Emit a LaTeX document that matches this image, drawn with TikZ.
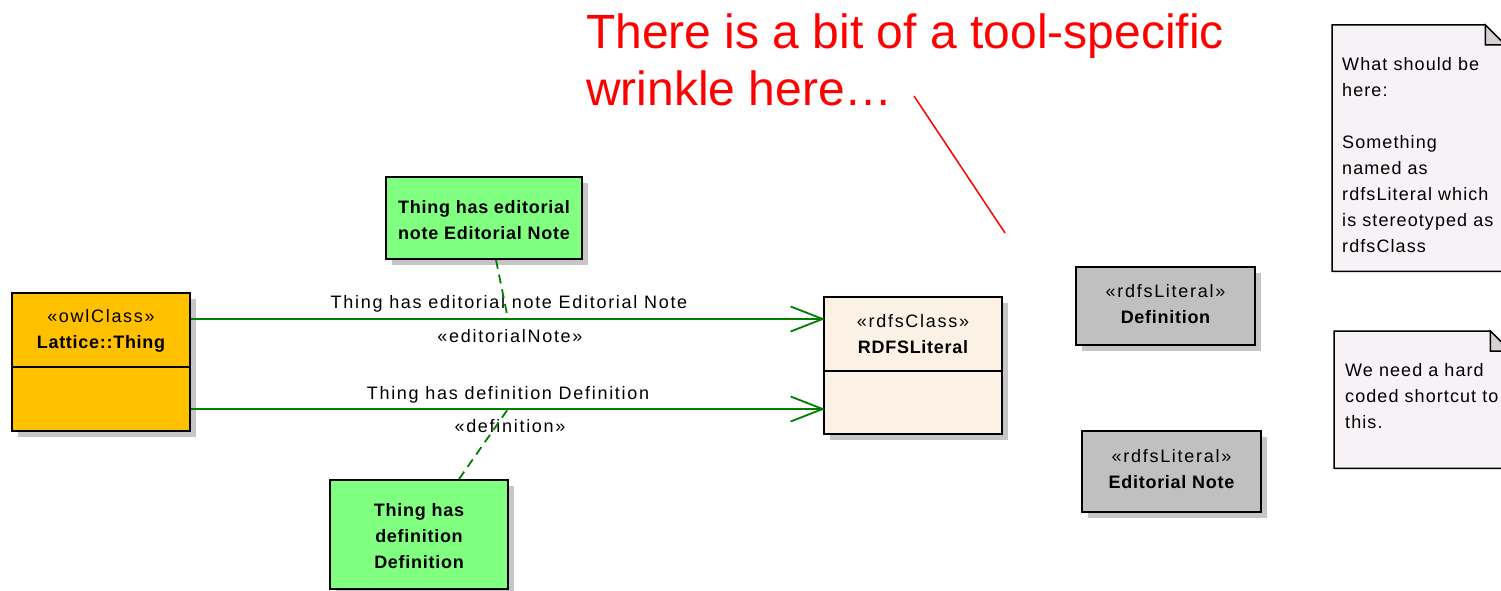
\documentclass[tikz,border=0pt]{standalone}
\usepackage{fontspec}
\setmainfont{Liberation Sans}
\newfontfamily\umlfont[LetterSpace=9.5]{Liberation Sans}
\newfontfamily\umlbfont[LetterSpace=4]{Liberation Sans}
\newfontfamily\notefont[LetterSpace=6]{Liberation Sans}
\newcommand\boldname[1]{{\umlbfont\bfseries #1}}
\usetikzlibrary{arrows.meta,shadows}

\definecolor{thingfill}{HTML}{FFC000}
\definecolor{rdfsfill}{HTML}{FBF1E4}
\definecolor{propfill}{HTML}{80FF80}
\definecolor{litfill}{HTML}{C0C0C0}
\definecolor{shadowc}{HTML}{C6C6C6}
\definecolor{assocgreen}{HTML}{008000}
\definecolor{notefill}{HTML}{F6F2F6}
\definecolor{foldfill}{HTML}{D4D0D4}
\definecolor{calloutred}{HTML}{FF0000}

\begin{document}
\begin{tikzpicture}[x=1pt,y=-1pt,
  umlbox/.style={draw=black, line width=1.8pt, rectangle, inner sep=0pt,
    drop shadow={shadow xshift=6pt, shadow yshift=-6pt, fill=shadowc, opacity=1}},
  boxtext/.style={align=center, inner sep=0pt, font=\umlfont\fontsize{18}{26}\selectfont},
  linklabel/.style={inner sep=0pt, anchor=base, font=\umlfont\fontsize{18}{26}\selectfont},
  assoc/.style={draw=assocgreen, line width=1.8pt,
    -{Straight Barb[length=32pt,width=25pt,line width=1.8pt]}, shorten >=-2pt},
  notelink/.style={draw=assocgreen, line width=1.8pt, dash pattern=on 9pt off 6pt},
  notebody/.style={draw=black, line width=1.5pt, fill=notefill, line join=miter},
  notefold/.style={draw=black, line width=1.5pt, fill=foldfill},
  notetext/.style={align=left, inner sep=0pt, anchor=north west,
    font=\notefont\fontsize{18}{26}\selectfont},
  callout/.style={align=left, inner sep=0pt, anchor=north west, text=calloutred,
    font=\fontsize{48}{57}\selectfont},
  calloutline/.style={draw=calloutred, line width=1.5pt}
]
\useasboundingbox (0,0) rectangle (1501,591);
\clip (0,0) rectangle (1501,591);

% ---- classes ----
\node[umlbox, fill=thingfill, minimum width=178, minimum height=138] (thing) at (101,362) {};
\draw[line width=1.8pt] (thing.west |- 0,367) -- (thing.east |- 0,367);
\node[boxtext] (thinghead) at (101,331) {«owlClass»\\\boldname{Lattice::Thing}};

\node[umlbox, fill=rdfsfill, minimum width=178, minimum height=137] (rdfs) at (913,365.5) {};
\draw[line width=1.8pt] (rdfs.west |- 0,371) -- (rdfs.east |- 0,371);
\node[boxtext] (rdfshead) at (913,334) {«rdfsClass»\\\boldname{RDFSLiteral}};

% ---- association classes ----
\node[umlbox, fill=propfill, minimum width=196, minimum height=82] (edbox) at (484,218) {};
\node[boxtext] (edtext) at (484,220.5) {\boldname{Thing has editorial}\\\boldname{note Editorial Note}};

\node[umlbox, fill=propfill, minimum width=178, minimum height=109] (defbox) at (419,534.5) {};
\node[boxtext] (deftext) at (419,536) {\boldname{Thing has}\\\boldname{definition}\\\boldname{Definition}};

% ---- literal instances ----
\node[umlbox, fill=litfill, minimum width=179, minimum height=78] (litdef) at (1165.5,306) {};
\node[boxtext] (litdeftext) at (1165.5,304.5) {«rdfsLiteral»\\\boldname{Definition}};

\node[umlbox, fill=litfill, minimum width=179, minimum height=81] (lited) at (1171.5,471.5) {};
\node[boxtext] (litedtext) at (1171.5,469) {«rdfsLiteral»\\\boldname{Editorial Note}};

% ---- associations ----
\draw[assoc] (thing.east |- 0,319) -- (rdfs.west |- 0,319);
\draw[assoc] (thing.east |- 0,409) -- (rdfs.west |- 0,409);
\node[linklabel] (lab1) at (509,308) {Thing has editorial note Editorial Note};
\node[linklabel] (st1) at (510,342) {«editorialNote»};
\node[linklabel] (lab2) at (508,399) {Thing has definition Definition};
\node[linklabel] (st2) at (510,432.5) {«definition»};

\coordinate (edmid) at (508,319);
\coordinate (defmid) at (508,409);
\draw[notelink] ([xshift=12pt]edbox.south) -- (edmid);
\draw[notelink] ([xshift=40pt]defbox.north) -- (defmid);

% ---- callout ----
\node[callout] (wrinkle) at (586,14) {There is a bit of a tool-specific\\wrinkle here…};
\coordinate (wrinkletail) at (914,96);
\coordinate (wrinkletip) at (1005,233);
\draw[calloutline] (wrinkletail) -- (wrinkletip);

% ---- notes ----
\node[minimum width=173, minimum height=246, anchor=north west, inner sep=0pt] (note1) at (1332,25) {};
\draw[notebody] (note1.north west) -- ([xshift=-20pt]note1.north east) -- ([yshift=-20pt]note1.north east)
  -- (note1.south east) -- (note1.south west) -- cycle;
\draw[notefold] ([xshift=-20pt]note1.north east) -- ([xshift=-20pt,yshift=-20pt]note1.north east)
  -- ([yshift=-20pt]note1.north east) -- cycle;
\node[notetext] (note1text) at (1342,57) {What should be\\here:\\[26pt]Something\\named as\\rdfsLiteral which\\is stereotyped as\\rdfsClass};

\node[minimum width=176, minimum height=137, anchor=north west, inner sep=0pt] (note2) at (1334,331) {};
\draw[notebody] (note2.north west) -- ([xshift=-20pt]note2.north east) -- ([yshift=-20pt]note2.north east)
  -- (note2.south east) -- (note2.south west) -- cycle;
\draw[notefold] ([xshift=-20pt]note2.north east) -- ([xshift=-20pt,yshift=-20pt]note2.north east)
  -- ([yshift=-20pt]note2.north east) -- cycle;
\node[notetext] (note2text) at (1345,363) {We need a hard\\coded shortcut to\\this.};
\end{tikzpicture}
\end{document}
